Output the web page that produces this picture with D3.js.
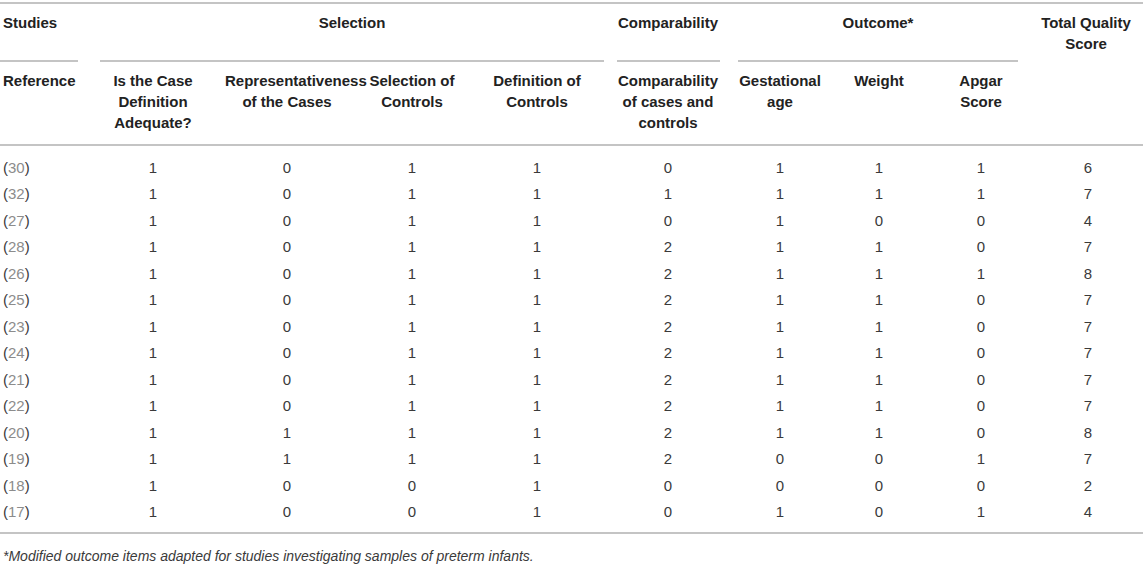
<!DOCTYPE html>
<html>
<head>
<meta charset="utf-8">
<script src="https://cdn.jsdelivr.net/npm/d3@7"></script>
<style>
  body { margin: 0; background: #fff; }
  text { font-family: "Liberation Sans", Arial, Helvetica, sans-serif; }
</style>
</head>
<body>
<svg id="table"></svg>
<script>
// table data, one array per column
const references = ["30", "32", "27", "28", "26", "25", "23", "24", "21", "22", "20", "19", "18", "17"];
const caseDefinition = [1, 1, 1, 1, 1, 1, 1, 1, 1, 1, 1, 1, 1, 1];
const representativeness = [0, 0, 0, 0, 0, 0, 0, 0, 0, 0, 1, 1, 0, 0];
const selectionControls = [1, 1, 1, 1, 1, 1, 1, 1, 1, 1, 1, 1, 0, 0];
const definitionControls = [1, 1, 1, 1, 1, 1, 1, 1, 1, 1, 1, 1, 1, 1];
const comparability = [0, 1, 0, 2, 2, 2, 2, 2, 2, 2, 2, 2, 0, 0];
const gestationalAge = [1, 1, 1, 1, 1, 1, 1, 1, 1, 1, 1, 0, 0, 1];
const weight = [1, 1, 0, 1, 1, 1, 1, 1, 1, 1, 1, 0, 0, 0];
const apgarScore = [1, 1, 0, 0, 1, 0, 0, 0, 0, 0, 0, 1, 0, 1];
const totalScore = [6, 7, 4, 7, 8, 7, 7, 7, 7, 7, 8, 7, 2, 4];

const groupLabels = ["Studies", "Selection", "Comparability", "Outcome*", "Total Quality"];
const columnKeys = ["ref", "c1", "c2", "c3", "c4", "c5", "c6", "c7", "c8", "total"];
const columnLabels = [
  ["Reference"],
  ["Is the Case", "Definition", "Adequate?"],
  ["Representativeness", "of the Cases"],
  ["Selection of", "Controls"],
  ["Definition of", "Controls"],
  ["Comparability", "of cases and", "controls"],
  ["Gestational", "age"],
  ["Weight"],
  ["Apgar", "Score"],
  []
];
const footnote = "*Modified outcome items adapted for studies investigating samples of preterm infants.";

const columnValues = [caseDefinition, representativeness, selectionControls, definitionControls,
  comparability, gestationalAge, weight, apgarScore, totalScore];

// layout
const width = 1143, height = 566;
const fontSize = 15;
const colCenter = d3.scaleOrdinal()
  .domain(columnKeys)
  .range([3, 153, 287, 412, 537, 668, 780, 879, 981, 1088]);
const colWidth = d3.scaleOrdinal()
  .domain(columnKeys)
  .range([90, 100, 124, 96, 100, 106, 90, 80, 80, 110]);

const groups = [
  {label: groupLabels[0], x: 3, anchor: "start", rule: [0, 78]},
  {label: groupLabels[1], x: 352, anchor: "middle", rule: [100, 604]},
  {label: groupLabels[2], x: 668, anchor: "middle", rule: [617, 720]},
  {label: groupLabels[3], x: 878, anchor: "middle", rule: [738, 1018]},
  {label: groupLabels[4], x: 1086, anchor: "middle", rule: null}
];

const y = d3.scalePoint()
  .domain(d3.range(references.length))
  .range([173, 173 + 13 * 26.46]);

const ruleColor = "#c4c4c4";
const headColor = "#222";
const bodyColor = "#3a3a3a";

const svg = d3.select("#table")
  .attr("width", width)
  .attr("height", height);

// horizontal rules
[3, 145, 533].forEach(ry => {
  svg.append("line")
    .attr("x1", 0).attr("x2", width)
    .attr("y1", ry).attr("y2", ry)
    .attr("stroke", ruleColor)
    .attr("stroke-width", 2);
});

// group headers
svg.append("g").selectAll("text")
  .data(groups)
  .join("text")
    .attr("x", d => d.x)
    .attr("y", 28)
    .attr("text-anchor", d => d.anchor)
    .attr("font-size", fontSize)
    .attr("font-weight", "bold")
    .attr("fill", headColor)
    .text(d => d.label);

svg.append("text")
  .attr("x", 1086)
  .attr("y", 49)
  .attr("text-anchor", "middle")
  .attr("font-size", fontSize)
  .attr("font-weight", "bold")
  .attr("fill", headColor)
  .text("Score");

svg.append("g").selectAll("line")
  .data(groups.filter(d => d.rule))
  .join("line")
    .attr("x1", d => d.rule[0])
    .attr("x2", d => d.rule[1])
    .attr("y1", 61).attr("y2", 61)
    .attr("stroke", ruleColor)
    .attr("stroke-width", 2);

// column headers
columnKeys.forEach((key, i) => {
  const lines = columnLabels[i];
  lines.forEach((line, j) => {
    const t = svg.append("text")
      .attr("y", 86 + j * 21)
      .attr("font-size", fontSize)
      .attr("font-weight", "bold")
      .attr("fill", headColor)
      .text(line);
    if (key === "ref") {
      t.attr("x", colCenter(key)).attr("text-anchor", "start");
    } else {
      const w = t.node().getComputedTextLength();
      const cw = colWidth(key);
      if (w > cw) {
        // long word overflows to the right like in a table cell
        t.attr("x", colCenter(key) - cw / 2).attr("text-anchor", "start");
      } else {
        t.attr("x", colCenter(key)).attr("text-anchor", "middle");
      }
    }
  });
});

// reference column: "(" digits ")"
const refText = svg.append("g").selectAll("text")
  .data(references)
  .join("text")
    .attr("x", colCenter("ref"))
    .attr("y", (d, i) => y(i))
    .attr("font-size", fontSize)
    .attr("fill", bodyColor);
refText.append("tspan").text("(");
refText.append("tspan").attr("fill", "#8c8c8c").text(d => d);
refText.append("tspan").text(")");

// value columns
columnValues.forEach((values, c) => {
  const key = columnKeys[c + 1];
  svg.append("g").selectAll("text")
    .data(values)
    .join("text")
      .attr("x", colCenter(key))
      .attr("y", (d, i) => y(i))
      .attr("text-anchor", "middle")
      .attr("font-size", fontSize)
      .attr("fill", bodyColor)
      .text(d => d);
});

// footnote
svg.append("text")
  .attr("x", 3)
  .attr("y", 561)
  .attr("font-size", 14)
  .attr("font-style", "italic")
  .attr("fill", bodyColor)
  .text(footnote);
</script>
</body>
</html>
